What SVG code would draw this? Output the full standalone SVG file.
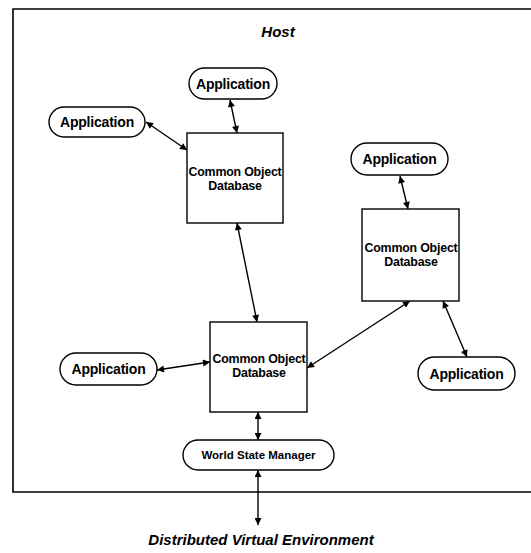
<svg xmlns="http://www.w3.org/2000/svg" width="531" height="553" viewBox="0 0 531 553">
<style>
.frame{fill:none;stroke:#000;stroke-width:1.6}
.box{fill:#fff;stroke:#000;stroke-width:1.4}
.pill{fill:#fff;stroke:#000;stroke-width:1.4}
.lbl{font-family:"Liberation Sans",Arial,sans-serif;font-weight:bold;fill:#000;text-anchor:middle}
.app{font-size:14px;letter-spacing:-0.2px}
.cod{font-size:12.4px;letter-spacing:-0.2px}
.wsm{font-size:11.5px}
.ttl{font-family:"Liberation Sans",Arial,sans-serif;font-weight:bold;font-style:italic;font-size:15px;fill:#000;text-anchor:middle}
.conn line{stroke:#000;stroke-width:1.4;marker-start:url(#ah);marker-end:url(#ah)}
</style>
<defs>
<marker id="ah" viewBox="0 0 10 10" refX="10" refY="5" markerUnits="userSpaceOnUse" markerWidth="10" markerHeight="7" orient="auto-start-reverse">
<path d="M0,0 L10,5 L0,10 z" fill="#000"/>
</marker>
</defs>
<rect width="531" height="553" fill="#fff"/>
<g id="host-frame">
<path class="frame" d="M531,9 H13 V492 H531"/>
<text class="ttl" x="278" y="37">Host</text>
</g>
<g id="connectors" class="conn">
<line x1="230" y1="100" x2="237" y2="133"/>
<line x1="146" y1="122" x2="187" y2="150"/>
<line x1="237" y1="223" x2="257" y2="322"/>
<line x1="400" y1="176" x2="408" y2="209"/>
<line x1="307" y1="368" x2="410" y2="301"/>
<line x1="443" y1="301" x2="467" y2="357"/>
<line x1="157" y1="370" x2="210" y2="362"/>
<line x1="258" y1="412" x2="258" y2="440"/>
<line x1="258" y1="470" x2="258" y2="525"/>
</g>
<g id="app-top">
<rect class="pill" x="189" y="68" width="88" height="31" rx="15.5"/>
<text class="lbl app" x="233" y="88.5">Application</text>
</g>
<g id="app-left">
<rect class="pill" x="49" y="107" width="96" height="30" rx="15"/>
<text class="lbl app" x="97" y="127">Application</text>
</g>
<g id="cod-topleft">
<rect class="box" x="187" y="133" width="96" height="90"/>
<text class="lbl cod" x="235" y="176">Common Object</text>
<text class="lbl cod" x="235" y="190">Database</text>
</g>
<g id="app-right-top">
<rect class="pill" x="351" y="143" width="97" height="32" rx="16"/>
<text class="lbl app" x="399.5" y="164">Application</text>
</g>
<g id="cod-right">
<rect class="box" x="362" y="209" width="97" height="92"/>
<text class="lbl cod" x="411" y="252">Common Object</text>
<text class="lbl cod" x="411" y="266">Database</text>
</g>
<g id="cod-middle">
<rect class="box" x="210" y="322" width="97" height="90"/>
<text class="lbl cod" x="259" y="363">Common Object</text>
<text class="lbl cod" x="259" y="377">Database</text>
</g>
<g id="app-left-bottom">
<rect class="pill" x="60" y="353" width="97" height="32" rx="16"/>
<text class="lbl app" x="108.5" y="374">Application</text>
</g>
<g id="app-right-bottom">
<rect class="pill" x="418" y="357" width="97" height="33" rx="16.5"/>
<text class="lbl app" x="466.5" y="378.5">Application</text>
</g>
<g id="world-state-manager">
<rect class="pill" x="183" y="440" width="151" height="30" rx="15"/>
<text class="lbl wsm" x="258.5" y="459">World State Manager</text>
</g>
<g id="dve-label">
<text class="ttl" x="261" y="545">Distributed Virtual Environment</text>
</g>
</svg>
